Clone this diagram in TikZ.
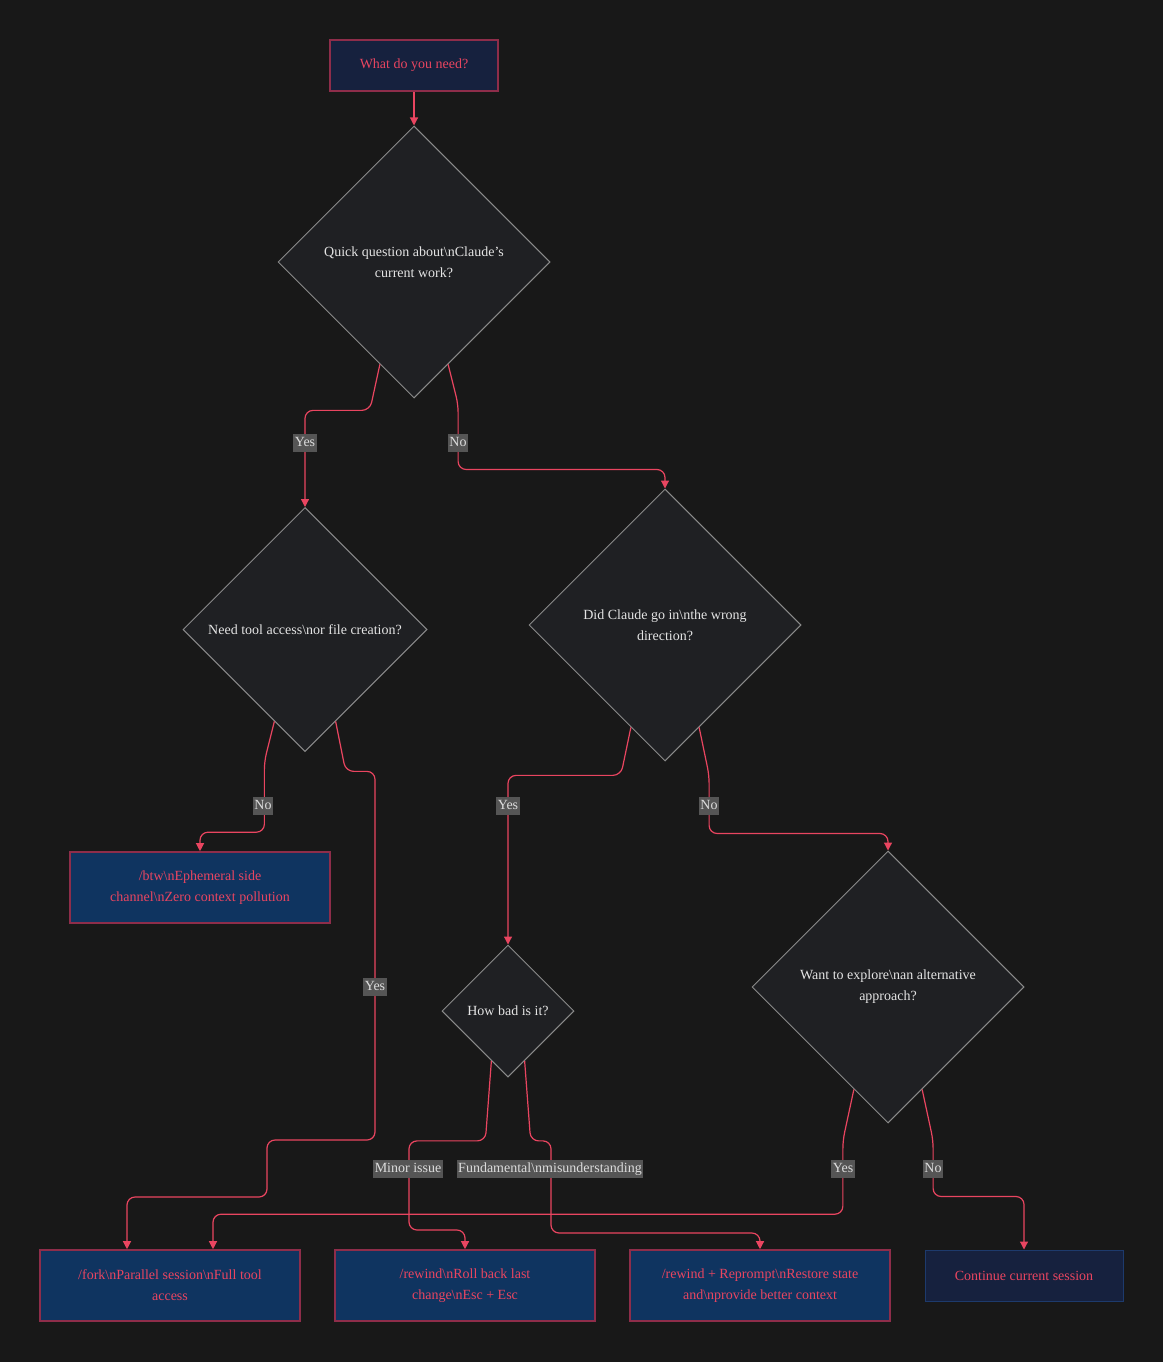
\documentclass[tikz,border=0pt]{standalone}
\usepackage{xcolor}
\usepackage{fontspec}
\setmainfont{Liberation Serif}
\usetikzlibrary{shapes.geometric,arrows.meta,calc}
\definecolor{FCBack}{HTML}{181818}
\definecolor{FCDiaFill}{HTML}{1F2023}
\definecolor{FCDiaLine}{HTML}{8A8A8A}
\definecolor{FCDiaText}{HTML}{E4E4E4}
\definecolor{FCBoxFill}{HTML}{0F3460}
\definecolor{FCBoxLine}{HTML}{8E2D4A}
\definecolor{FCTopFill}{HTML}{16213E}
\definecolor{FCEndLine}{HTML}{1D3A6C}
\definecolor{FCRed}{HTML}{E94560}
\definecolor{FCLabel}{HTML}{555555}
\definecolor{FCLabelText}{HTML}{DCDCDC}
\newcommand{\fcfont}{\fontsize{10.5}{15.75}\selectfont}

\begin{document}
\begin{tikzpicture}[x=0.75pt,y=-0.75pt,
  decision/.style={diamond,draw=FCDiaLine,fill=FCDiaFill,text=FCDiaText,inner sep=0pt,align=center,font=\fcfont,line width=0.75pt},
  action/.style={rectangle,draw=FCBoxLine,fill=FCBoxFill,text=FCRed,minimum width=195pt,minimum height=53.25pt,inner sep=0pt,align=center,font=\fcfont,line width=1.2pt},
  flow/.style={draw=FCRed,line width=0.9pt,rounded corners=6pt,-{Triangle[length=6pt,width=6pt]}},
  lbl/.style={fill=FCLabel,text=FCLabelText,inner xsep=1pt,inner ysep=1.5pt,text height=8pt,text depth=2.5pt,font=\fcfont}]
\fill[FCBack] (0,0) rectangle (1163,1362);
\path[use as bounding box] (0,0) rectangle (1163,1362);

% nodes
\node[action,fill=FCTopFill,minimum width=126pt,minimum height=38.25pt] (start) at (414,65.5) {What do you need?};
\node[decision,minimum width=204pt,minimum height=204pt] (d1) at (414,262) {Quick question about\textbackslash nClaude's\\current work?};
\node[decision,minimum width=183pt,minimum height=183pt] (d2) at (305,629.5) {Need tool access\textbackslash nor file creation?};
\node[decision,minimum width=204pt,minimum height=204pt] (d3) at (665,625) {Did Claude go in\textbackslash nthe wrong\\direction?};
\node[decision,minimum width=99pt,minimum height=99pt] (d4) at (508,1011) {How bad is it?};
\node[decision,minimum width=204pt,minimum height=204pt] (d5) at (888,987) {Want to explore\textbackslash nan alternative\\approach?};
\node[action] (btw) at (200,887.5) {/btw\textbackslash nEphemeral side\\channel\textbackslash nZero context pollution};
\node[action] (fork) at (170,1285.5) {/fork\textbackslash nParallel session\textbackslash nFull tool\\access};
\node[action] (rewind) at (465,1285.5) {/rewind\textbackslash nRoll back last\\change\textbackslash nEsc + Esc};
\node[action] (reprompt) at (760,1285.5) {/rewind + Reprompt\textbackslash nRestore state\\and\textbackslash nprovide better context};
\node[action,fill=FCTopFill,draw=FCEndLine,line width=0.75pt,minimum width=148.5pt,minimum height=38.25pt] (cont) at (1024,1275.5) {Continue current session};

% connectors
\draw[flow,rounded corners=0pt] (start) -- (d1);
\draw[flow] ($(d1.south)!.25!(d1.west)$) -- ++(-10,46) -| (d2.north);
\draw[flow] ($(d1.south)!.25!(d1.east)$) -- ++(10,40) |- ($(d3.north)+(0,-19)$) -- (d3.north);
\draw[flow] ($(d2.south)!.25!(d2.west)$) -- ++(-10,40) |- ($(btw.north)+(0,-19)$) -- (btw.north);
\draw[flow] ($(d2.south)!.25!(d2.east)$) -- ++(10,50) -| (375,1140) -| (267,1197) -| ($(fork.north)+(-43,0)$);
\draw[flow] ($(d3.south)!.25!(d3.west)$) -- ++(-10,48) -| (d4.north);
\draw[flow] ($(d3.south)!.25!(d3.east)$) -- ++(10,48) |- ($(d5.north)+(0,-17)$) -- (d5.north);
\draw[flow] ($(d4.south)!.25!(d4.west)$) -- ++(-6,80) -| (409,1230) -| (rewind.north);
\draw[flow] ($(d4.south)!.25!(d4.east)$) -- ++(6,80) -| (551,1233) -| (reprompt.north);
\draw[flow] ($(d5.south)!.25!(d5.west)$) -- ++(-11,51) |- ($(fork.north)+(43,-35)$) -- ($(fork.north)+(43,0)$);
\draw[flow] ($(d5.south)!.25!(d5.east)$) -- ++(11,51) |- ($(cont.north)+(0,-53)$) -- (cont.north);

% labels
\node[lbl] (yes1) at (305,443) {Yes};
\node[lbl] (no1) at (458,443) {No};
\node[lbl] (no2) at (263,806) {No};
\node[lbl] (yes2) at (375,987) {Yes};
\node[lbl] (yes3) at (508,806) {Yes};
\node[lbl] (no3) at (709,806) {No};
\node[lbl] (minor) at (408,1169) {Minor issue};
\node[lbl] (fund) at (550,1169) {Fundamental\textbackslash nmisunderstanding};
\node[lbl] (yes4) at (843,1169) {Yes};
\node[lbl] (no4) at (933,1169) {No};
\end{tikzpicture}
\end{document}
